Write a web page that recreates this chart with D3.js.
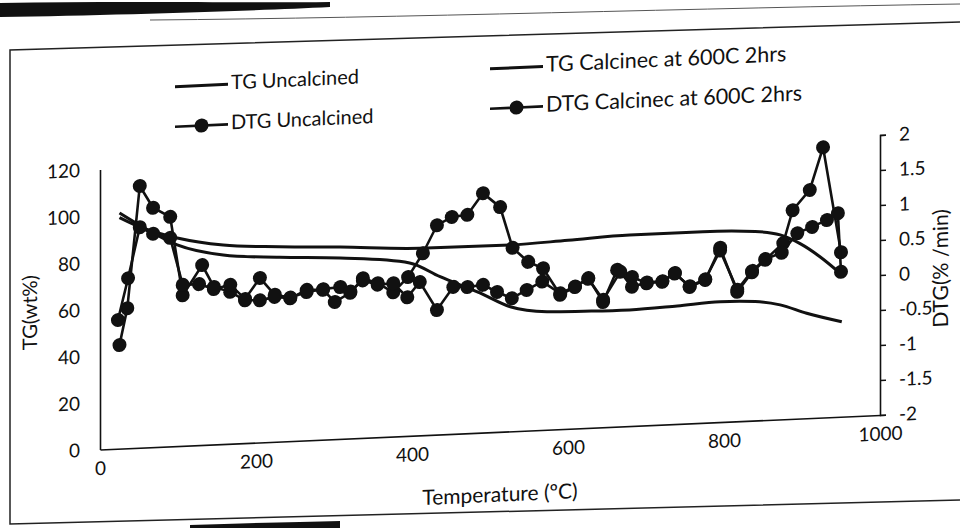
<!DOCTYPE html>
<html>
<head>
<meta charset="utf-8">
<script src="https://cdn.jsdelivr.net/npm/d3@7"></script>
<style>
  body { margin: 0; background: #fff; }
  text { font-family: Lato, 'Liberation Sans', sans-serif; fill: #111; }
</style>
</head>
<body>
<svg width="960" height="528"></svg>
<script>
// TG curves (wt%)
const tgUncalTemps = [25, 55, 99, 158, 230, 308, 397, 436, 487, 526, 573, 630, 679, 740, 795, 840, 872, 906, 951];
const tgUncal = [101, 94.5, 86.2, 81, 79, 77.5, 74.1, 67.6, 59.9, 53.4, 50.6, 50, 49.8, 50.6, 51.6, 51, 49.1, 45, 40.7];
const tgCalTemps = [25, 55, 99, 158, 230, 308, 410, 526, 600, 679, 773, 840, 872, 897, 923, 949];
const tgCal = [99, 94, 89.2, 85.3, 83.5, 82.2, 80.2, 79.9, 80.8, 81.9, 81.9, 81, 79.1, 75.1, 69, 61.5];

// DTG curves (%/min)
const dtgUncalTemps = [25, 35, 51, 68, 90, 106, 131, 146, 167, 186, 205, 224, 244, 265, 286, 301, 321, 337, 356, 376, 395, 414, 432, 451, 471, 491, 513, 529, 549, 568, 590, 609, 626, 645, 663, 682, 701, 721, 737, 756, 776, 795, 817, 836, 853, 876, 888, 910, 927, 950];
const dtgUncal = [-0.52, 0.00, 1.74, 1.42, 1.28, 0.15, 0.57, 0.25, 0.17, 0.04, 0.03, 0.07, 0.04, 0.15, 0.14, -0.04, 0.08, 0.28, 0.20, 0.06, 0.27, 0.60, 0.99, 1.10, 1.12, 1.42, 1.21, 0.62, 0.41, 0.31, -0.08, 0.02, 0.14, -0.21, 0.24, 0.13, 0.03, 0.04, 0.16, -0.05, 0.04, 0.49, -0.15, 0.12, 0.29, 0.52, 0.98, 1.26, 1.86, 0.35];
const dtgCalTemps = [23, 36, 51, 68, 90, 106, 127, 146, 167, 186, 205, 224, 244, 265, 286, 308, 321, 337, 356, 376, 394, 410, 432, 453, 471, 491, 509, 528, 547, 567, 590, 609, 626, 645, 667, 682, 701, 721, 737, 756, 776, 795, 817, 836, 853, 874, 894, 913, 932, 946, 950];
const dtgCal = [-0.16, 0.43, 1.15, 1.05, 0.98, 0.30, 0.30, 0.22, 0.27, 0.06, 0.35, 0.10, 0.05, 0.12, 0.15, 0.17, 0.10, 0.25, 0.18, 0.19, -0.02, 0.19, -0.22, 0.10, 0.09, 0.11, 0.00, -0.10, 0.01, 0.12, -0.06, 0.03, 0.13, -0.18, 0.21, -0.01, 0.04, 0.05, 0.15, -0.04, 0.05, 0.45, -0.12, 0.14, 0.30, 0.38, 0.65, 0.73, 0.82, 0.91, 0.07];

const xTicks = [0, 200, 400, 600, 800, 1000];
const tgTicks = [0, 20, 40, 60, 80, 100, 120];
const dtgTicks = [-2, -1.5, -1, -0.5, 0, 0.5, 1, 1.5, 2];

const legendItems = [
  { label: 'TG Uncalcined', marker: false, x: 175, y: 90, size: 20 },
  { label: 'DTG Uncalcined', marker: true, x: 175, y: 130, size: 20 },
  { label: 'TG Calcinec at 600C 2hrs', marker: false, x: 490, y: 86, size: 21.5 },
  { label: 'DTG Calcinec at 600C 2hrs', marker: true, x: 490, y: 126, size: 21.5 }
];

const plotLeft = 100, plotRight = 880, plotTop = 169.5, plotBottom = 449.5;
const slope = -0.0442; // photo is tilted: right side sits higher

const svg = d3.select('svg');

// page edge / frame of the photographed sheet
svg.append('path')
  .attr('d', 'M0,3 C120,1 250,3 330,2 L330,7 C250,11 120,15 0,17 Z')
  .attr('fill', '#111');
svg.append('path')
  .attr('d', 'M150,20 C400,18 700,8 960,4')
  .attr('fill', 'none').attr('stroke', '#555').attr('stroke-width', 1);
svg.append('path')
  .attr('d', 'M960,22 L10,50 L10,524 L960,500')
  .attr('fill', 'none').attr('stroke', '#222').attr('stroke-width', 1.5);
svg.append('path')
  .attr('d', 'M190,525 C250,523 300,522 340,521 L340,528 L190,528 Z')
  .attr('fill', '#111');

const chart = svg.append('g')
  .attr('transform', `translate(0, ${-slope * plotLeft}) skewY(${Math.atan(slope) * 180 / Math.PI})`);

const xScale = d3.scaleLinear().domain([0, 1000]).range([plotLeft, plotRight]);
const yTg = d3.scaleLinear().domain([0, 120]).range([plotBottom, plotTop]);
const yDtg = d3.scaleLinear().domain([-2, 2]).range([plotBottom, plotTop]);

// axes
const xAxis = d3.axisBottom(xScale).tickValues(xTicks).tickSize(0).tickPadding(12)
  .tickFormat(d => d);
const yAxisL = d3.axisLeft(yTg).tickValues(tgTicks).tickSize(0).tickPadding(20);
const yAxisR = d3.axisRight(yDtg).tickValues(dtgTicks).tickSize(6).tickPadding(13)
  .tickFormat(d => d);

const gx = chart.append('g').attr('transform', `translate(0, ${plotBottom})`).call(xAxis);
const gl = chart.append('g').attr('transform', `translate(${plotLeft}, 0)`).call(yAxisL);
const gr = chart.append('g').attr('transform', `translate(${plotRight}, 0)`).call(yAxisR);

[gx, gl, gr].forEach(g => {
  g.select('.domain').attr('stroke', '#111').attr('stroke-width', 1.6);
  g.selectAll('.tick line').attr('stroke', '#111').attr('stroke-width', 1.6);
  g.selectAll('.tick text').attr('font-size', 19).attr('fill', '#111')
    .style('font-family', "Lato, 'Liberation Sans', sans-serif");
});

// TG lines
const tgLine = d3.line().x(d => xScale(d[0])).y(d => yTg(d[1])).curve(d3.curveMonotoneX);
chart.append('path')
  .datum(tgUncalTemps.map((t, i) => [t, tgUncal[i]]))
  .attr('d', tgLine).attr('fill', 'none').attr('stroke', '#111').attr('stroke-width', 3);
chart.append('path')
  .datum(tgCalTemps.map((t, i) => [t, tgCal[i]]))
  .attr('d', tgLine).attr('fill', 'none').attr('stroke', '#111').attr('stroke-width', 3);

// DTG lines with markers
const dtgLine = d3.line().x(d => xScale(d[0])).y(d => yDtg(d[1]));
[[dtgUncalTemps, dtgUncal], [dtgCalTemps, dtgCal]].forEach(([temps, vals]) => {
  const pts = temps.map((t, i) => [t, vals[i]]);
  chart.append('path').datum(pts).attr('d', dtgLine)
    .attr('fill', 'none').attr('stroke', '#111').attr('stroke-width', 2.6);
  chart.append('g').selectAll('circle').data(pts).enter().append('circle')
    .attr('cx', d => xScale(d[0])).attr('cy', d => yDtg(d[1])).attr('r', 7)
    .attr('fill', '#111');
});

// axis titles
chart.append('text')
  .attr('transform', `translate(32, ${(plotTop + plotBottom) / 2}) rotate(-90)`)
  .attr('text-anchor', 'middle').attr('dominant-baseline', 'middle')
  .attr('font-size', 20).text('TG(wt%)');
chart.append('text')
  .attr('transform', `translate(943, ${(plotTop + plotBottom) / 2 - 4}) rotate(-90)`)
  .attr('text-anchor', 'middle').attr('dominant-baseline', 'middle')
  .attr('font-size', 21).text('DTG(% /min)');
chart.append('text')
  .attr('x', 500).attr('y', 514)
  .attr('text-anchor', 'middle').attr('dominant-baseline', 'middle')
  .attr('font-size', 21).text('Temperature (ºC)');

// legend
const legend = chart.append('g');
legendItems.forEach(item => {
  const g = legend.append('g').attr('transform', `translate(${item.x}, ${item.y})`);
  g.append('line').attr('x1', 0).attr('x2', 53).attr('stroke', '#111')
    .attr('stroke-width', item.marker ? 2.6 : 3);
  if (item.marker) g.append('circle').attr('cx', 26.5).attr('r', 7).attr('fill', '#111');
  g.append('text').attr('x', 56).attr('dominant-baseline', 'middle')
    .attr('font-size', item.size).text(item.label);
});
</script>
</body>
</html>
